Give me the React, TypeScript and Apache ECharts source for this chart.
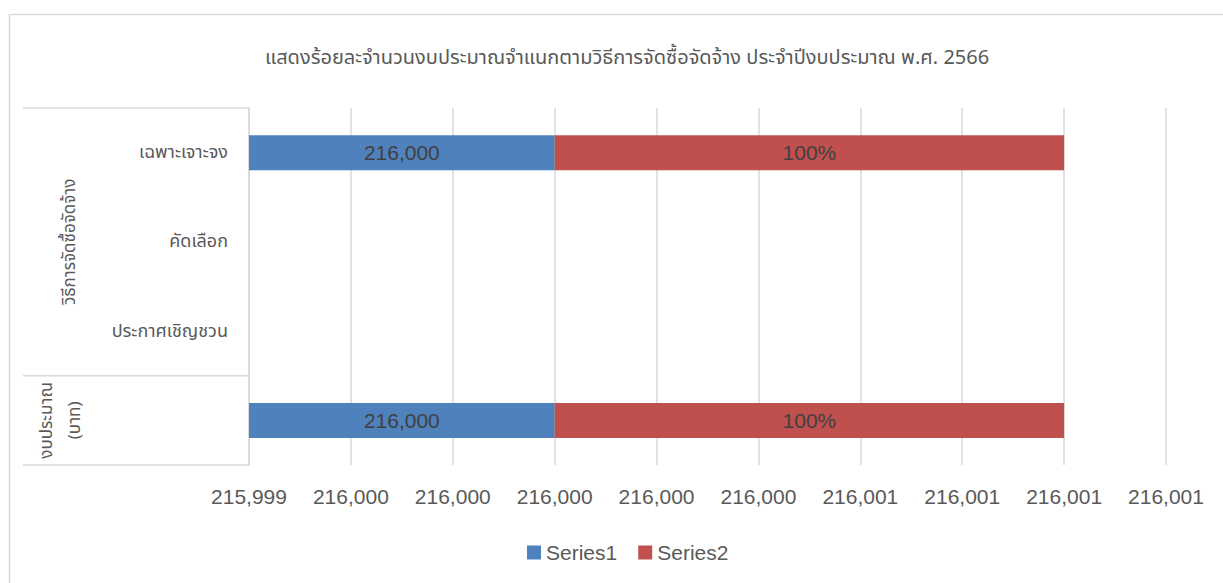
import React, { useEffect, useRef } from "react";
import * as echarts from "echarts";

const title = "แสดงร้อยละจำนวนงบประมาณจำแนกตามวิธีการจัดซื้อจัดจ้าง ประจำปีงบประมาณ พ.ศ. 2566";
const categories = ["", "ประกาศเชิญชวน", "คัดเลือก", "เฉพาะเจาะจง"];
const groups = [
  { name: "งบประมาณ\n(บาท)", span: 1 },
  { name: "วิธีการจัดซื้อจัดจ้าง", span: 3 },
];
const seriesNames = ["Series1", "Series2"];
const series1 = [216000, null, null, 216000];
const series2 = [1, null, null, 1];
const series2Labels = ["100%", "", "", "100%"];
const axisMin = 215999.4;
const axisMax = 216001.2;
const axisInterval = 0.2;

const FONT = '"Liberation Sans", Arial, sans-serif';
const THAI = '"Noto Sans Thai", "Noto Sans", "Liberation Sans", sans-serif';

export default function App() {
  const ref = useRef<HTMLDivElement>(null);
  useEffect(() => {
    if (!ref.current) return;
    const chart = echarts.init(ref.current, null, { renderer: "svg" });
    const gridLeft = 249;
    const gridTop = 108;
    const gridBottomY = 465;
    const band = (gridBottomY - gridTop) / categories.length;

    const graphics: any[] = [
      {
        type: "rect",
        shape: { x: 9.5, y: 14.5, width: 1230, height: 600 },
        style: { fill: "none", stroke: "#d9d9d9", lineWidth: 1.5 },
        silent: true,
      },
    ];
    let yBottom = gridBottomY;
    graphics.push({
      type: "line",
      shape: { x1: 23, y1: yBottom, x2: gridLeft, y2: yBottom },
      style: { stroke: "#d9d9d9", lineWidth: 1.5 },
    });
    groups.forEach((g) => {
      const yTop = yBottom - g.span * band;
      graphics.push({
        type: "line",
        shape: { x1: 23, y1: yTop, x2: gridLeft, y2: yTop },
        style: { stroke: "#d9d9d9", lineWidth: 1.5 },
      });
      const cy = (yTop + yBottom) / 2;
      const multi = g.name.includes("\n");
      graphics.push({
        type: "text",
        x: multi ? 61 : 70,
        y: cy,
        rotation: Math.PI / 2,
        style: {
          text: g.name,
          font: `17px ${THAI}`,
          fill: "#595959",
          align: "center",
          verticalAlign: "middle",
          lineHeight: 28,
        },
      });
      yBottom = yTop;
    });

    chart.setOption({
      animation: false,
      title: {
        text: title,
        left: 260,
        top: 43,
        textStyle: { fontFamily: THAI, fontSize: 20, fontWeight: "normal", color: "#595959" },
      },
      legend: {
        data: seriesNames,
        bottom: 15,
        left: 522,
        icon: "rect",
        itemWidth: 14,
        itemHeight: 14,
        itemGap: 21,
        textStyle: { fontFamily: FONT, fontSize: 21, color: "#595959" },
      },
      grid: { left: gridLeft, right: 57, top: gridTop, bottom: 583 - gridBottomY, containLabel: false },
      xAxis: {
        type: "value",
        min: axisMin,
        max: axisMax,
        interval: axisInterval,
        axisLine: { show: false },
        axisTick: { show: false },
        splitLine: { show: true, lineStyle: { color: "#d9d9d9", width: 1.5 } },
        axisLabel: {
          margin: 21,
          fontFamily: FONT,
          fontSize: 21,
          color: "#595959",
          formatter: (v: number) => Math.round(v).toLocaleString("en-US"),
        },
      },
      yAxis: {
        type: "category",
        data: categories,
        axisLine: { show: true, lineStyle: { color: "#d9d9d9", width: 1.5 } },
        axisTick: { show: false },
        axisLabel: {
          margin: 21,
          fontFamily: THAI,
          fontSize: 18,
          color: "#595959",
        },
      },
      series: [
        {
          name: seriesNames[0],
          type: "bar",
          stack: "total",
          data: series1,
          barWidth: 35,
          itemStyle: { color: "#4F81BD" },
          label: {
            show: true,
            position: "inside",
            fontFamily: FONT,
            fontSize: 21,
            color: "#404040",
            formatter: (p: any) => (p.value == null ? "" : Number(p.value).toLocaleString("en-US")),
          },
        },
        {
          name: seriesNames[1],
          type: "bar",
          stack: "total",
          data: series2,
          barWidth: 35,
          itemStyle: { color: "#C0504D" },
          label: {
            show: true,
            position: "inside",
            fontFamily: FONT,
            fontSize: 21,
            color: "#404040",
            formatter: (p: any) => series2Labels[p.dataIndex] || "",
          },
        },
      ],
      graphic: graphics,
    });
    return () => chart.dispose();
  }, []);
  return (
    <div
      ref={ref}
      style={{ position: "fixed", left: 0, top: 0, width: 1223, height: 583, background: "#fff" }}
    />
  );
}
